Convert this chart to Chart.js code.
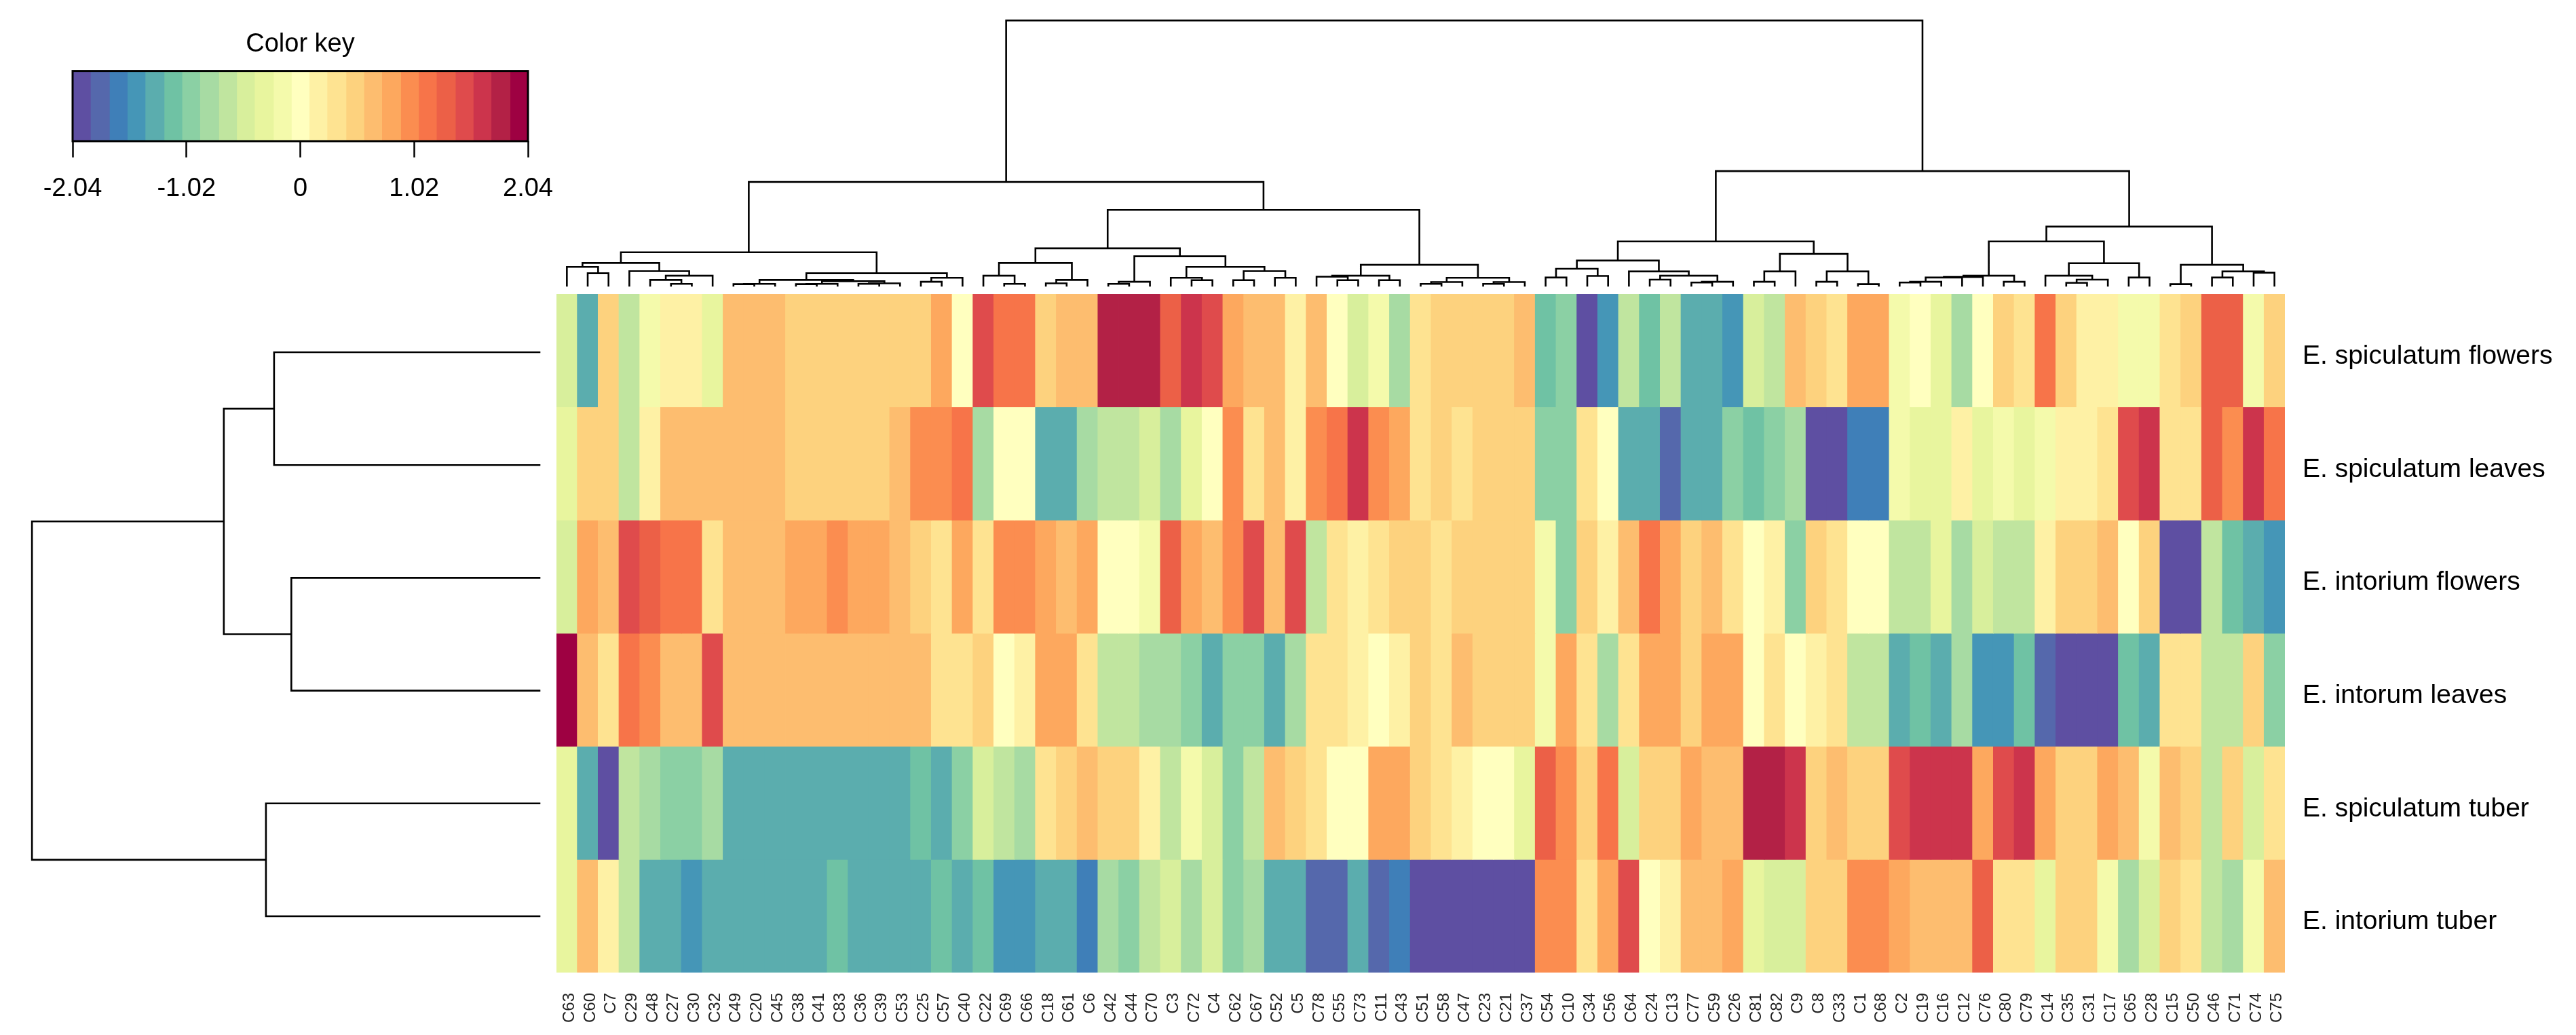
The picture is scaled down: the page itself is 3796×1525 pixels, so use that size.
<!DOCTYPE html>
<html>
<head>
<meta charset="utf-8">
<title>Heatmap</title>
<script src="https://cdn.jsdelivr.net/npm/chart.js@4/dist/chart.umd.min.js"></script>
<style>
  html, body { margin: 0; padding: 0; background: #fff; }
  #page { position: relative; width: 3796px; height: 1525px; overflow: hidden; }
  canvas { position: absolute; }
  #keyChart { left: 0; top: 0; }
  #topTreeChart { left: 820px; top: 0; }
  #sideTreeChart { left: 0; top: 433px; }
  #heatChart { left: 820px; top: 433px; }
</style>
</head>
<body>
<div id="page">
  <canvas id="keyChart" width="820" height="433"></canvas>
  <canvas id="topTreeChart" width="2547" height="433"></canvas>
  <canvas id="sideTreeChart" width="820" height="1000"></canvas>
  <canvas id="heatChart" width="2976" height="1092"></canvas>
</div>
<script>
const compounds = ['C63','C60','C7','C29','C48','C27','C30','C32','C49','C20','C45','C38','C41','C83','C36','C39','C53','C25','C57','C40',
  'C22','C69','C66','C18','C61','C6','C42','C44','C70','C3','C72','C4','C62','C67','C52','C5','C78','C55','C73','C11',
  'C43','C51','C58','C47','C23','C21','C37','C54','C10','C34','C56','C64','C24','C13','C77','C59','C26','C81','C82','C9',
  'C8','C33','C1','C68','C2','C19','C16','C12','C76','C80','C79','C14','C35','C31','C17','C65','C28','C15','C50','C46',
  'C71','C74','C75'];

const samples = ['E. spiculatum flowers', 'E. spiculatum leaves', 'E. intorium flowers', 'E. intorum leaves', 'E. spiculatum tuber', 'E. intorium tuber'];

// values are the colour key bin of each cell, 0 = lowest, 24 = highest
const spiculatumFlowers = [9,4,15,8,11,13,13,10,16,16, 16,15,15,15,15,15,15,15,17,12,
  21,19,19,15,16,16,23,23,23,20, 22,21,17,16,16,13,16,12,9,11,
  7,14,15,15,15,15,16,5,6,0, 3,8,5,8,4,4,3,9,8,16,
  15,14,17,17,11,12,10,7,12,15, 14,19,15,13,13,11,11,14,15,20,20,11,15];
const spiculatumLeaves = [10,15,15,8,13,16,16,16,16,16, 16,15,15,15,15,15,16,18,18,19,
  7,12,12,4,4,7,8,8,9,7, 10,12,18,14,16,13,18,19,22,18,
  17,14,15,14,15,15,15,6,6,14, 12,4,4,1,4,4,6,5,6,7,
  0,0,2,2,11,10,10,13,10,11, 10,11,13,13,14,21,22,14,14,20,18,22,19];
const intoriumFlowers = [9,17,16,21,20,19,19,14,16,16, 16,17,17,18,17,17,16,15,14,17,
  14,18,18,17,16,17,12,12,11,20, 17,16,18,21,16,21,8,14,13,14,
  15,15,14,15,15,15,15,11,6,15, 13,16,19,17,15,16,14,12,13,6,
  15,14,12,12,8,8,10,7,9,8, 8,13,15,15,16,12,15,0,0,8,5,4,3];
const intorumLeaves = [24,16,14,19,18,16,16,21,16,16, 16,16,16,16,16,16,16,16,14,14,
  15,12,13,17,17,14,8,8,7,7, 6,4,6,6,4,7,14,14,13,12,
  13,15,14,16,15,15,15,11,17,14, 7,14,17,17,15,17,17,12,14,12,
  13,14,8,8,4,5,4,7,3,3, 5,1,0,0,0,5,4,14,14,8,8,15,6];
const spiculatumTuber = [10,4,0,8,7,6,6,7,4,4, 4,4,4,4,4,4,4,5,4,6,
  9,8,7,14,15,16,15,15,13,8, 11,9,6,8,16,15,14,12,12,17,
  17,15,14,13,12,12,10,20,18,15, 19,9,15,15,17,16,16,23,23,22,
  15,16,15,15,21,22,22,22,17,21, 22,17,15,15,17,16,11,16,15,8,15,9,14];
const intoriumTuber = [10,16,13,8,4,4,3,4,4,4, 4,4,4,5,4,4,4,4,5,4,
  5,3,3,4,4,2,7,6,8,9, 7,9,6,7,4,4,1,1,4,1,
  2,0,0,0,0,0,0,18,18,14, 17,21,12,13,16,16,17,10,9,9,
  15,15,18,18,17,16,16,16,20,14, 14,10,15,15,11,7,9,15,14,8,7,11,16];

const heatRows = [spiculatumFlowers, spiculatumLeaves, intoriumFlowers, intorumLeaves, spiculatumTuber, intoriumTuber];

const keyColors = ['#5E4FA2','#5568AC','#3F7FB8','#4596B7','#5BADAE','#6FC2A4','#8BD0A4','#A7DBA3','#C0E59F','#D8EF9C',
  '#E8F59E','#F4FAAB','#FFFFBF','#FEF1A5','#FEE391','#FDD27E','#FDBD6F','#FDA85E','#FB8D50','#F77449',
  '#EC6047','#DF4B4C','#CC344C','#B32146','#9E0142'];
const keyBreaks = [-2.04,-1.88,-1.71,-1.55,-1.39,-1.22,-1.06,-0.90,-0.73,-0.57,-0.41,-0.24,-0.08,
  0.08,0.24,0.41,0.57,0.73,0.90,1.06,1.22,1.39,1.55,1.71,1.88,2.04];
const keyTicks = [-2.04, -1.02, 0, 1.02, 2.04];

// trees: [merge height, left, right], a plain number is a column or row index
const compoundTree = [100,
  [39.1,
    [12.6,
      [8.6,
        [7.1, 0, [4.7, 1, 2]],
        [5.5, 3, [3.8, [2.2, 4, [0.7, 5, 6]], 7]]],
      [4.7,
        [2.2, [0.7, [0.6, 8, 9], 10], [1.7, [0.7, [0.6, 11, 12], 13], [0.9, [0.7, 14, 15], 16]]],
        [3.0, [1.5, 17, 18], 19]]],
    [28.6,
      [14.1,
        [8.6, [3.8, 20, [0.7, 21, 22]], [2.2, [0.9, 23, 24], 25]],
        [11.1,
          [1.5, [0.7, 26, 27], 28],
          [7.1, [3.0, 29, [2.1, 30, 31]], [5.5, [2.1, 32, 33], [3.0, 34, 35]]]]],
      [7.9,
        [3.8, [3.4, 36, [2.1, 37, 38]], [2.1, 39, 40]],
        [3.0, [1.4, [0.7, 41, 42], 43], [1.4, [0.7, 44, 45], 46]]]]],
  [43.2,
    [16.7,
      [9.5,
        [6.4, [3.1, 47, 48], [3.7, 49, 50]],
        [5.4, 51, [3.8, [2.3, 52, 53], [1.5, [1.2, 54, 55], 56]]]],
      [12.0,
        [5.4, [1.5, 57, 58], 59],
        [5.4, [1.5, 60, 61], [0.6, 62, 63]]]],
    [22.3,
      [16.7,
        [3.8, [3.3, [3.1, [1.5, [1.2, 64, 65], 66], 67], 68], [1.5, 69, 70]],
        [8.5, [3.8, 71, [2.3, [1.1, 72, 73], 74]], [3.1, 75, 76]]],
      [7.9, [0.6, 77, 78], [5.4, [3.1, 79, 80], [4.9, 81, 82]]]]]];

const sampleTree = [100, [62.2, [52.3, 0, 1], [48.9, 2, 3]], [53.9, 4, 5]];

const FONT = '"Liberation Sans", Arial, sans-serif';

// walk a tree and collect the U shaped branches as one path, NaN breaks the line
function treePath(node, out) {
  if (typeof node === 'number') return { pos: node, height: 0 };
  const a = treePath(node[1], out);
  const b = treePath(node[2], out);
  const h = node[0];
  out.push([a.pos, a.height], [a.pos, h], [b.pos, h], [b.pos, b.height], [NaN, NaN]);
  return { pos: (a.pos + b.pos) / 2, height: h };
}

function treeChart(id, tree, horizontal, xScale, yScale) {
  const path = [];
  treePath(tree, path);
  const points = path.map(p => horizontal ? { x: p[1], y: p[0] } : { x: p[0], y: p[1] });
  return new Chart(document.getElementById(id), {
    type: 'scatter',
    data: {
      datasets: [{
        data: points,
        showLine: true,
        borderColor: '#000',
        borderWidth: 2.6,
        borderCapStyle: 'square',
        borderJoinStyle: 'miter',
        pointRadius: 0,
        clip: false
      }]
    },
    options: {
      responsive: false,
      animation: false,
      devicePixelRatio: 1,
      layout: { padding: 0 },
      plugins: { legend: { display: false }, tooltip: { enabled: false } },
      scales: {
        x: Object.assign({ display: false }, xScale),
        y: Object.assign({ display: false }, yScale)
      }
    }
  });
}

treeChart('topTreeChart', compoundTree, false, { min: -0.5, max: 82.5 }, { min: -3.07, max: 107.7 });
treeChart('sideTreeChart', sampleTree, true, { min: -3.34, max: 106.3, reverse: true }, { min: -0.5175, max: 5.4995, reverse: true });

// heatmap, one floating bar per cell
new Chart(document.getElementById('heatChart'), {
  type: 'bar',
  data: {
    labels: compounds,
    datasets: heatRows.map((row, r) => ({
      label: samples[r],
      data: row.map(() => [r, r + 1]),
      backgroundColor: row.map(v => keyColors[v]),
      borderWidth: 0,
      inflateAmount: 0.4,
      grouped: false,
      barPercentage: 1,
      categoryPercentage: 1
    }))
  },
  options: {
    responsive: false,
    animation: false,
    devicePixelRatio: 1,
    layout: { padding: 0 },
    plugins: { legend: { display: false }, tooltip: { enabled: false } },
    scales: {
      x: {
        grid: { display: false },
        border: { display: false },
        ticks: {
          autoSkip: false, minRotation: 90, maxRotation: 90, padding: 22, labelOffset: 4,
          color: '#222', font: { family: FONT, size: 24 }
        },
        afterFit(scale) { scale.height = 92; scale.paddingLeft = 0; scale.paddingRight = 0; }
      },
      y: {
        position: 'right',
        reverse: true,
        min: 0,
        max: 6,
        grid: { display: false },
        border: { display: false },
        afterBuildTicks(scale) { scale.ticks = samples.map((s, i) => ({ value: i + 0.5 })); },
        ticks: {
          autoSkip: false, padding: 18, labelOffset: 9, color: '#000',
          font: { family: FONT, size: 39 },
          callback: v => samples[v - 0.5]
        },
        afterFit(scale) { scale.width = 429; scale.paddingTop = 0; scale.paddingBottom = 0; }
      }
    }
  }
});

// colour key
const keyFrame = {
  id: 'keyFrame',
  afterDatasetsDraw(chart) {
    const a = chart.chartArea, c = chart.ctx;
    c.save();
    c.strokeStyle = '#000';
    c.lineWidth = 3;
    c.strokeRect(a.left, a.top, a.right - a.left, a.bottom - a.top);
    c.restore();
  }
};

new Chart(document.getElementById('keyChart'), {
  type: 'bar',
  plugins: [keyFrame],
  data: {
    labels: ['key'],
    datasets: keyColors.map((col, i) => ({
      data: [[keyBreaks[i], keyBreaks[i + 1]]],
      backgroundColor: col,
      borderWidth: 0,
      inflateAmount: 0.4,
      grouped: false,
      barPercentage: 1,
      categoryPercentage: 1
    }))
  },
  options: {
    indexAxis: 'y',
    responsive: false,
    animation: false,
    devicePixelRatio: 1,
    layout: { padding: { left: 107, right: 42, top: 0, bottom: 0 } },
    plugins: {
      legend: { display: false },
      tooltip: { enabled: false },
      title: {
        display: true,
        text: 'Color key',
        color: '#000',
        font: { family: FONT, size: 38, weight: 'normal' },
        padding: { top: 43, bottom: 16 }
      }
    },
    scales: {
      x: {
        min: -2.04,
        max: 2.04,
        border: { display: false },
        grid: { drawOnChartArea: false, drawTicks: true, tickLength: 24, tickColor: '#000', tickWidth: 2.5 },
        afterBuildTicks(scale) { scale.ticks = keyTicks.map(v => ({ value: v })); },
        ticks: {
          autoSkip: false, maxRotation: 0, padding: 24, color: '#000',
          font: { family: FONT, size: 38 },
          callback: v => String(v)
        },
        afterFit(scale) { scale.height = 225; scale.paddingLeft = 0; scale.paddingRight = 0; }
      },
      y: { display: false }
    }
  }
});
</script>
</body>
</html>
